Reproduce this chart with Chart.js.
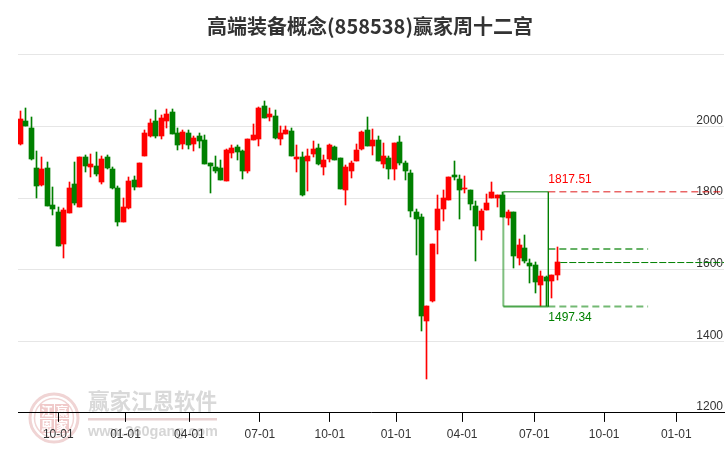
<!DOCTYPE html>
<html>
<head>
<meta charset="utf-8">
<style>
  html, body { margin: 0; padding: 0; background: #fff; }
  canvas { display: block; }
</style>
<script src="https://cdn.jsdelivr.net/npm/chart.js@4"></script>
</head>
<body>
<canvas id="chart" width="726" height="450" role="img" aria-label="高端装备概念(858538)赢家周十二宫"></canvas>
<script>
const opens = [1952,2015,1995,1884,1836,1884,1780,1761,1671,1758,1839,1775,1914,1886,1889,1844,1914,1881,1828,1733,
  1772,1850,1830,1917,1973,2015,1973,2015,2040,1982,1951,1982,1951,1973,1962,1898,1886,1884,1847,1926,
  1942,1931,1875,1962,1965,2057,2026,2029,1965,1979,1987,1909,1914,1903,1923,1940,1886,1909,1942,1912,
  1822,1875,1903,1937,1990,1945,1962,1895,1912,1881,1956,1898,1870,1761,1747,1456,1512,1710,1769,1794,
  1864,1853,1825,1822,1777,1710,1766,1800,1800,1808,1744,1761,1632,1660,1618,1612,1556,1579,1568,1584];
const closes = [2021,2001,1909,1833,1881,1777,1769,1665,1766,1828,1786,1914,1889,1895,1867,1909,1884,1828,1733,1775,
  1847,1830,1898,1982,2009,1973,2023,2035,1979,1948,1984,1948,1968,1959,1895,1889,1875,1850,1934,1940,
  1928,1875,1965,1976,2051,2023,2035,1968,1982,1990,1917,1914,1808,1917,1937,1895,1906,1948,1906,1825,
  1886,1898,1934,1984,1945,1962,1903,1917,1881,1954,1898,1875,1763,1741,1472,1500,1671,1769,1800,1858,
  1858,1822,1828,1783,1721,1763,1786,1816,1808,1747,1761,1637,1668,1623,1610,1565,1582,1568,1584,1621];
const highs = [2043,2051,2026,1931,1914,1900,1830,1775,1772,1844,1900,1914,1920,1923,1928,1917,1920,1886,1833,1800,
  1858,1861,1898,1990,2021,2046,2032,2049,2049,1995,1990,1990,1973,1982,1976,1898,1917,1906,1937,1948,
  1948,1934,1965,2007,2054,2071,2051,2046,2001,2001,1995,1948,1928,1937,1959,1951,1920,1951,1945,1912,
  1892,1903,1951,1987,2026,1993,1973,1954,1917,1954,1973,1903,1878,1769,1755,1500,1671,1808,1822,1858,
  1903,1864,1861,1822,1791,1769,1811,1844,1808,1816,1766,1761,1685,1696,1629,1621,1596,1582,1584,1663];
const lows = [1948,2001,1906,1800,1833,1777,1752,1665,1632,1758,1780,1775,1872,1858,1861,1839,1881,1825,1721,1733,
  1769,1822,1830,1917,1970,1968,1965,1995,1979,1934,1937,1937,1931,1940,1895,1814,1870,1850,1847,1912,
  1906,1853,1870,1962,1945,2023,2015,1965,1948,1979,1917,1872,1805,1819,1914,1892,1864,1900,1906,1825,
  1780,1856,1903,1934,1945,1920,1903,1884,1853,1850,1892,1850,1747,1640,1428,1294,1509,1643,1735,1794,
  1850,1741,1814,1766,1623,1682,1766,1800,1775,1747,1724,1604,1612,1618,1562,1534,1498,1498,1520,1570];

const tickPositions = [7, 19.4, 31.2, 44.2, 57.1, 69.3, 81.5, 94.8, 107.7, 121];
const tickLabels = ['10-01','01-01','04-01','07-01','10-01','01-01','04-01','07-01','10-01','01-01'];
const yTicks = [1200, 1400, 1600, 1800, 2000, 2200];
const yTickLabels = ['1200', '1400', '1600', '1800', '2000', ''];

const highLevel = 1817.51;
const lowLevel = 1497.34;
const upperDash = 1658;
const currentLevel = 1620;
const boxLeft = 89.1;
const boxRight = 97.4;
const dashEnd = 115.8;
const currentStart = 99.6;
const axisEnd = 129.8;

const RED = '#ff0000';
const GREEN = '#008000';
const idx = opens.map((_, i) => i);
const colors = idx.map(i => closes[i] >= opens[i] ? RED : GREEN);

function line(pts, color, width, dash) {
  return {
    type: 'line',
    data: pts.map(p => ({ x: p[0], y: p[1] })),
    borderColor: color,
    borderWidth: width,
    borderDash: dash || [],
    pointRadius: 0,
    tension: 0,
    fill: false,
    order: 0,
  };
}

// snap candles to whole pixels, bars look soft otherwise
const snapBars = {
  id: 'snapBars',
  afterDatasetsUpdate(chart) {
    chart.getSortedVisibleDatasetMetas().forEach(meta => {
      if (meta.type !== 'bar') return;
      meta.data.forEach(el => {
        el.x = Math.floor(el.x) + 0.5;
        el.y = Math.round(el.y);
        el.base = Math.round(el.base);
      });
    });
  }
};

const watermark = {
  id: 'watermark',
  beforeDraw(chart) {
    const c = chart.ctx;
    c.save();
    // logo
    c.strokeStyle = '#f0d4d4';
    c.lineWidth = 3;
    c.beginPath(); c.arc(54, 418, 24, 0, Math.PI * 2); c.stroke();
    c.lineWidth = 1.5;
    c.beginPath(); c.arc(54, 418, 19.5, 0, Math.PI * 2); c.stroke();
    const marks = [['江', 40, 404], ['赢', 55, 404], ['恩', 40, 419], ['家', 55, 419]];
    c.font = 'bold 12px "Noto Sans CJK SC"';
    c.textAlign = 'center';
    c.textBaseline = 'middle';
    marks.forEach(m => {
      c.fillStyle = '#f0caca';
      c.fillRect(m[1], m[2], 14, 14);
      c.fillStyle = '#ffffff';
      c.fillText(m[0], m[1] + 7, m[2] + 7);
    });
    // name
    c.textAlign = 'left';
    c.fillStyle = '#d9d9d9';
    c.font = 'bold 21.5px "Noto Sans CJK SC"';
    c.fillText('赢家江恩软件', 88, 401);
    c.fillStyle = '#e8d0d0';
    c.fillRect(88, 418, 129, 2.5);
    c.fillStyle = '#d6d6d6';
    c.font = 'bold 14.5px "Liberation Sans"';
    c.fillText('www.360gang.com', 88, 432);
    c.restore();
  }
};

const texts = {
  id: 'texts',
  afterDraw(chart) {
    const c = chart.ctx;
    const x = chart.scales.x;
    const y = chart.scales.y;
    c.save();
    c.textAlign = 'center';
    c.textBaseline = 'middle';
    c.fillStyle = '#333333';
    c.font = 'bold 20px "Noto Sans CJK SC"';
    c.fillText('高端装备概念(858538)赢家周十二宫', 370, 26);
    c.textAlign = 'left';
    c.font = '12px "Liberation Sans"';
    c.fillStyle = RED;
    c.fillText(highLevel.toFixed(2), x.getPixelForValue(boxRight), y.getPixelForValue(highLevel) - 12);
    c.fillStyle = GREEN;
    c.fillText(lowLevel.toFixed(2), x.getPixelForValue(boxRight), y.getPixelForValue(lowLevel) + 11);
    c.restore();
  }
};

new Chart(document.getElementById('chart'), {
  data: {
    datasets: [
      line([[boxRight, highLevel], [axisEnd, highLevel]], 'rgba(220,0,0,0.9)', 1, [7, 4]),
      line([[currentStart, currentLevel], [axisEnd, currentLevel]], GREEN, 1, [7, 2]),
      line([[boxRight, upperDash], [dashEnd, upperDash]], 'rgba(0,128,0,0.8)', 1.5, [7, 4]),
      line([[boxRight, lowLevel], [dashEnd, lowLevel]], 'rgba(0,128,0,0.55)', 2, [7, 4]),
      line([[boxLeft, highLevel], [boxRight, highLevel]], GREEN, 1),
      line([[boxRight, highLevel], [boxRight, lowLevel]], GREEN, 1),
      line([[boxLeft, lowLevel], [boxRight, lowLevel]], 'rgba(0,128,0,0.7)', 2),
      line([[boxLeft, highLevel], [boxLeft, lowLevel]], 'rgba(0,128,0,0.5)', 2),
      {
        type: 'bar',
        data: idx.map(i => ({ x: i, y: [lows[i], highs[i]] })),
        backgroundColor: colors,
        barThickness: 1,
        grouped: false,
        borderWidth: 0,
        order: 2,
      },
      {
        type: 'bar',
        data: idx.map(i => ({ x: i, y: [opens[i], closes[i]] })),
        backgroundColor: colors,
        barThickness: 5,
        grouped: false,
        borderWidth: 0,
        order: 1,
      },
    ]
  },
  plugins: [snapBars, watermark, texts],
  options: {
    responsive: false,
    animation: false,
    devicePixelRatio: 1,
    layout: { padding: { left: 18, right: 2, top: 54.9, bottom: 0 } },
    plugins: { legend: { display: false }, title: { display: false }, tooltip: { enabled: false } },
    scales: {
      x: {
        type: 'linear',
        min: -0.424,
        max: axisEnd,
        offset: false,
        afterBuildTicks(scale) { scale.ticks = tickPositions.map(value => ({ value })); },
        afterFit(scale) { scale.height = 37.1; },
        border: { color: '#000000', width: 1 },
        grid: { offset: false, drawOnChartArea: false, tickLength: 9, tickColor: '#000000' },
        ticks: {
          autoSkip: false,
          maxRotation: 0,
          padding: 6,
          color: '#333333',
          font: { family: '"Liberation Sans"', size: 12 },
          callback: v => tickLabels[tickPositions.indexOf(v)],
        },
      },
      y: {
        position: 'right',
        min: 1200,
        max: 2200,
        afterBuildTicks(scale) { scale.ticks = yTicks.map(value => ({ value })); },
        afterFit(scale) { scale.width = 0; },
        border: { display: false },
        grid: { color: '#e6e6e6', drawTicks: false },
        ticks: {
          mirror: true,
          padding: -1,
          labelOffset: -6,
          color: '#333333',
          font: { family: '"Liberation Sans"', size: 12 },
          callback: v => yTickLabels[yTicks.indexOf(v)],
        },
      },
    },
  },
});
</script>
</body>
</html>
